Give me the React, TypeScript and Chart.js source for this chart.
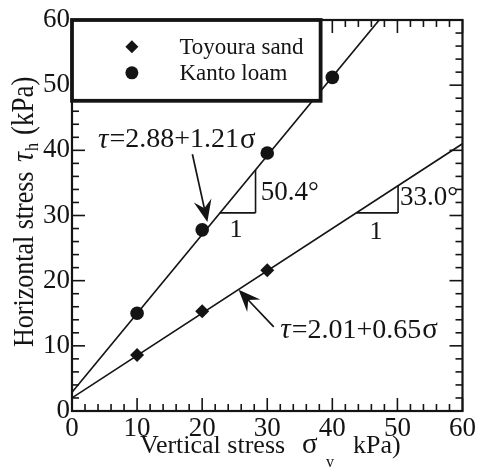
import React, { useEffect, useRef } from "react";
import { Chart, registerables } from "chart.js";

Chart.register(...registerables);

// ---- data ----
const seriesNames = ["Toyoura sand", "Kanto loam"];
const sandX = [10, 20, 30];
const sandY = [8.6, 15.3, 21.6];
const loamX = [10, 20, 30, 40];
const loamY = [15.0, 27.8, 39.6, 51.2];
// fitted lines: tau = a + b * sigma
const sandCoef = [2.01, 0.65];
const loamCoef = [2.88, 1.21];
const sandFitX = [0, 60];
const loamFitX = [0, 47.2];
const axisTicks = [0, 10, 20, 30, 40, 50, 60];
const sandEq = "=2.01+0.65";
const loamEq = "=2.88+1.21";
const sandAngle = "33.0°";
const loamAngle = "50.4°";

const FONT = '"Liberation Serif", "Times New Roman", serif';
const INK = "#141414";

function line(ctx: CanvasRenderingContext2D, x1: number, y1: number, x2: number, y2: number) {
  ctx.beginPath();
  ctx.moveTo(x1, y1);
  ctx.lineTo(x2, y2);
  ctx.stroke();
}

function arrow(ctx: CanvasRenderingContext2D, x1: number, y1: number, x2: number, y2: number) {
  const ang = Math.atan2(y2 - y1, x2 - x1);
  const L = 22, W = 9, N = 14;
  const bx = x2 - L * Math.cos(ang), by = y2 - L * Math.sin(ang);
  const nx = x2 - N * Math.cos(ang), ny = y2 - N * Math.sin(ang);
  ctx.lineWidth = 1.7;
  line(ctx, x1, y1, nx, ny);
  ctx.beginPath();
  ctx.moveTo(x2, y2);
  ctx.lineTo(bx - W * Math.sin(ang), by + W * Math.cos(ang));
  ctx.lineTo(nx, ny);
  ctx.lineTo(bx + W * Math.sin(ang), by - W * Math.cos(ang));
  ctx.closePath();
  ctx.fill();
}

const decor = {
  id: "decor",
  afterDatasetsDraw(chart: any) {
    const { ctx, chartArea: a } = chart;
    const xs = chart.scales.x, ys = chart.scales.y;
    const X = (v: number) => xs.getPixelForValue(v);
    const Y = (v: number) => ys.getPixelForValue(v);
    ctx.save();
    ctx.strokeStyle = INK;
    ctx.fillStyle = INK;

    // ticks on all four sides, inward
    ctx.lineWidth = 1.6;
    for (let v = 0; v <= 60; v += 2) {
      const len = v % 10 === 0 ? 13 : 7;
      const px = X(v), py = Y(v);
      line(ctx, px, a.bottom, px, a.bottom - len);
      line(ctx, px, a.top, px, a.top + len);
      line(ctx, a.left, py, a.left + len, py);
      line(ctx, a.right, py, a.right - len, py);
    }
    // frame
    ctx.lineWidth = 2.2;
    ctx.strokeRect(a.left, a.top, a.right - a.left, a.bottom - a.top);

    // legend box
    const lx1 = X(0), ly1 = Y(60), lx2 = X(38.2), ly2 = Y(47.6);
    ctx.fillStyle = "#fff";
    ctx.fillRect(lx1, ly1, lx2 - lx1, ly2 - ly1);
    ctx.lineWidth = 3.8;
    ctx.strokeRect(lx1, ly1, lx2 - lx1, ly2 - ly1);
    ctx.fillStyle = INK;
    const mx = X(9.2);
    const my1 = Y(55.9), my2 = Y(51.9);
    ctx.beginPath();
    ctx.moveTo(mx, my1 - 6.5);
    ctx.lineTo(mx + 6.5, my1);
    ctx.lineTo(mx, my1 + 6.5);
    ctx.lineTo(mx - 6.5, my1);
    ctx.closePath();
    ctx.fill();
    ctx.beginPath();
    ctx.arc(mx, my2, 6.5, 0, Math.PI * 2);
    ctx.fill();
    ctx.font = `23px ${FONT}`;
    ctx.textAlign = "left";
    ctx.textBaseline = "middle";
    ctx.fillText(seriesNames[0], X(16.5), my1 + 1);
    ctx.fillText(seriesNames[1], X(16.5), my2 + 1);

    // equations
    const drawEq = (x0: number, yc: number, body: string) => {
      let cx = x0;
      ctx.font = `italic 29px ${FONT}`;
      ctx.fillText("τ", cx, yc);
      cx += ctx.measureText("τ").width + 1;
      ctx.font = `28px ${FONT}`;
      ctx.fillText(body, cx, yc);
      cx += ctx.measureText(body).width + 1;
      ctx.font = `29px ${FONT}`;
      ctx.fillText("σ", cx, yc);
    };
    drawEq(X(4.0), Y(41.6), loamEq);
    drawEq(X(32.0), Y(12.4), sandEq);

    // arrows
    arrow(ctx, X(18.5), Y(39.4), X(20.8), Y(29.0));
    arrow(ctx, X(31.0), Y(12.9), X(25.6), Y(18.6));

    // slope triangles
    ctx.lineWidth = 1.6;
    line(ctx, X(22.7), Y(30.4), X(28.2), Y(30.4));
    line(ctx, X(28.2), Y(30.4), X(28.2), Y(37.0));
    line(ctx, X(43.7), Y(30.4), X(50.1), Y(30.4));
    line(ctx, X(50.1), Y(30.4), X(50.1), Y(34.6));
    ctx.font = `26px ${FONT}`;
    ctx.textAlign = "center";
    ctx.fillText("1", X(25.2), Y(27.8));
    ctx.fillText("1", X(46.7), Y(27.5));
    ctx.textAlign = "left";
    ctx.font = `27px ${FONT}`;
    ctx.fillText(loamAngle, X(29.0), Y(33.5));
    ctx.fillText(sandAngle, X(50.4), Y(32.7));
    ctx.restore();
  },
  afterDraw(chart: any) {
    const { ctx } = chart;
    ctx.save();
    ctx.fillStyle = INK;
    ctx.textAlign = "left";
    ctx.textBaseline = "alphabetic";
    // x title
    const xb = 453;
    ctx.font = `26px ${FONT}`;
    ctx.fillText("Vertical stress", 140, xb);
    ctx.font = `29px ${FONT}`;
    ctx.fillText("σ", 302, xb);
    ctx.font = `16px ${FONT}`;
    ctx.fillText("v", 326, xb + 14);
    ctx.font = `26px ${FONT}`;
    ctx.fillText("kPa)", 353, xb);

    // y title (rotated)
    ctx.translate(33, 347);
    ctx.rotate(-Math.PI / 2);
    ctx.scale(1, 1.15);
    ctx.font = `26px ${FONT}`;
    ctx.fillText("Horizontal stress", 0, 0);
    ctx.font = `italic 28px ${FONT}`;
    ctx.fillText("τ", 185, 0);
    ctx.font = `16px ${FONT}`;
    ctx.fillText("h", 196, 4);
    ctx.font = `27px ${FONT}`;
    ctx.fillText("(kPa)", 212, 0);
    ctx.restore();
  },
};

export default function App() {
  const ref = useRef<HTMLCanvasElement | null>(null);
  useEffect(() => {
    if (!ref.current) return;
    const pts = (xs: number[], ys: number[]) => xs.map((x, i) => ({ x, y: ys[i] }));
    const fit = (xs: number[], c: number[]) => xs.map((x) => ({ x, y: c[0] + c[1] * x }));
    const chart = new Chart(ref.current, {
      type: "scatter",
      data: {
        datasets: [
          {
            label: seriesNames[0] + " fit",
            data: fit(sandFitX, sandCoef),
            showLine: true,
            borderColor: INK,
            borderWidth: 1.7,
            pointRadius: 0,
          },
          {
            label: seriesNames[1] + " fit",
            data: fit(loamFitX, loamCoef),
            showLine: true,
            borderColor: INK,
            borderWidth: 1.7,
            pointRadius: 0,
          },
          {
            label: seriesNames[0],
            data: pts(sandX, sandY),
            pointStyle: "rectRot",
            pointRadius: 7,
            backgroundColor: INK,
            borderColor: INK,
            borderWidth: 0,
          },
          {
            label: seriesNames[1],
            data: pts(loamX, loamY),
            pointStyle: "circle",
            pointRadius: 6.8,
            backgroundColor: INK,
            borderColor: INK,
            borderWidth: 0,
          },
        ],
      },
      options: {
        responsive: false,
        animation: false,
        devicePixelRatio: 1,
        layout: { padding: { left: 0, top: 20, right: 13, bottom: 0 } },
        plugins: { legend: { display: false }, tooltip: { enabled: false } },
        scales: {
          x: {
            type: "linear",
            min: 0,
            max: 60,
            afterFit: (s: any) => { s.height = 60; },
            afterBuildTicks: (s: any) => { s.ticks = axisTicks.map((v) => ({ value: v })); },
            grid: { display: false, drawTicks: false },
            border: { display: false },
            ticks: { padding: 2, maxRotation: 0, autoSkip: false, color: INK, font: { family: FONT, size: 27 } },
          },
          y: {
            type: "linear",
            min: 0,
            max: 60,
            afterFit: (s: any) => { s.width = 72; },
            afterBuildTicks: (s: any) => { s.ticks = axisTicks.map((v) => ({ value: v })); },
            grid: { display: false, drawTicks: false },
            border: { display: false },
            ticks: { padding: 2, color: INK, font: { family: FONT, size: 27 } },
          },
        },
      },
      plugins: [decor],
    } as any);
    return () => chart.destroy();
  }, []);
  return (
    <div style={{ position: "fixed", left: 0, top: 0, width: 478, height: 471, background: "#fff" }}>
      <canvas ref={ref} width={478} height={471} style={{ display: "block" }} />
    </div>
  );
}
